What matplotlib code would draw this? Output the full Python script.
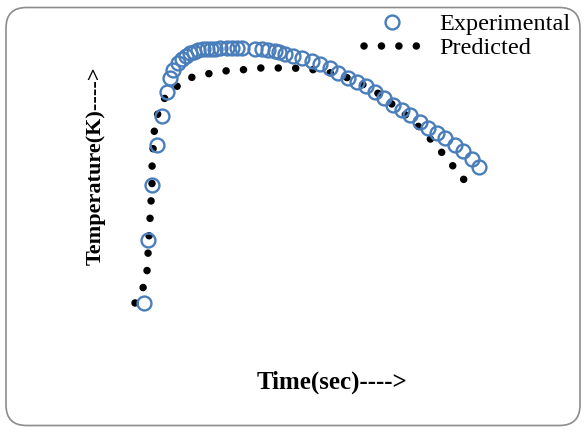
import matplotlib
matplotlib.use("Agg")
import matplotlib.pyplot as plt
from matplotlib.patches import FancyBboxPatch

# Experimental data (time s, temperature K)
exp_time = [9, 13, 17, 22, 27, 32, 35, 38, 43, 47, 51, 55, 59, 63, 68, 72, 76, 80,
            85, 92, 97, 102, 107, 120, 127, 133, 140, 144, 150, 158, 167, 177, 185,
            195, 203, 213, 222, 231, 240, 249, 258, 267, 275, 285, 293, 302, 310,
            320, 328, 337, 344]
exp_temp = [297, 360, 415, 455, 484, 508, 522, 530, 537, 541, 544, 547, 548, 550,
            551, 551, 551, 551, 552, 552, 552, 552, 552, 551, 551, 550, 549, 548,
            546, 544, 542, 539, 536, 532, 527, 522, 518, 514, 508, 502, 495, 490,
            485, 478, 472, 467, 462, 455, 449, 441, 433]

# Predicted curve (time s, temperature K)
pred_time = [0, 8, 12, 13, 14, 15, 16, 17, 17, 18, 19, 22, 28, 41, 54, 72, 89, 106,
             122, 140, 157, 174, 192, 208, 223, 240, 253, 267, 280, 292, 303, 314,
             325, 336]
pred_temp = [297, 312, 329, 346, 363, 381, 398, 415, 432, 450, 467, 484, 500, 513,
             522, 526, 529, 530, 532, 532, 532, 531, 528, 524, 518, 509, 499, 488,
             477, 465, 452, 439, 425, 412]

labels = ["Experimental", "Predicted"]
xlabel = "Time(sec)---->"
ylabel = "Temperature(K)---->"

plt.rcParams['font.family'] = ['Liberation Serif', 'DejaVu Serif']

W, H = 586, 432
fig = plt.figure(figsize=(W / 100, H / 100), dpi=100)
fig.patch.set_facecolor("white")

# rounded border
border = FancyBboxPatch((6 / W, 6.5 / H), (W - 12) / W, (H - 14) / H,
                        boxstyle="round,pad=0,rounding_size=0.035",
                        transform=fig.transFigure, facecolor="none",
                        edgecolor="#8c8c8c", linewidth=1.2, mutation_aspect=W / H)
fig.patches.append(border)

ax = fig.add_axes([0, 0, 1, 1])
ax.set_xlim(-135, 451)
ax.set_ylim(168, 600)
ax.axis("off")

lw = 5.4
ax.plot(pred_time, pred_temp, color="black", linewidth=lw,
        linestyle=(0, (0.01, 12.5 / lw)), dash_capstyle="round",
        solid_capstyle="round", label=labels[1], zorder=2)
ax.plot(exp_time, exp_temp, linestyle="none", marker="o", markersize=10,
        markerfacecolor="none", markeredgecolor="#4a7ebb", markeredgewidth=1.7,
        label=labels[0], zorder=3)

handles, labs = ax.get_legend_handles_labels()
order = [1, 0]
leg = ax.legend([handles[i] for i in order], [labs[i] for i in order],
                loc="upper left", bbox_to_anchor=(364 / W, 1 - 13 / H),
                bbox_transform=fig.transFigure, frameon=False, fontsize=17.5,
                handlelength=2.3, handletextpad=0.8, labelspacing=0.1,
                borderpad=0, borderaxespad=0, numpoints=1)

fig.text(96 / W, 1 - 166 / H, ylabel, rotation=90, ha="center", va="center",
         fontsize=16, fontweight="bold")
fig.text(332 / W, 1 - 382 / H, xlabel, ha="center", va="center",
         fontsize=18, fontweight="bold")

fig.savefig("out.png", dpi=100)
